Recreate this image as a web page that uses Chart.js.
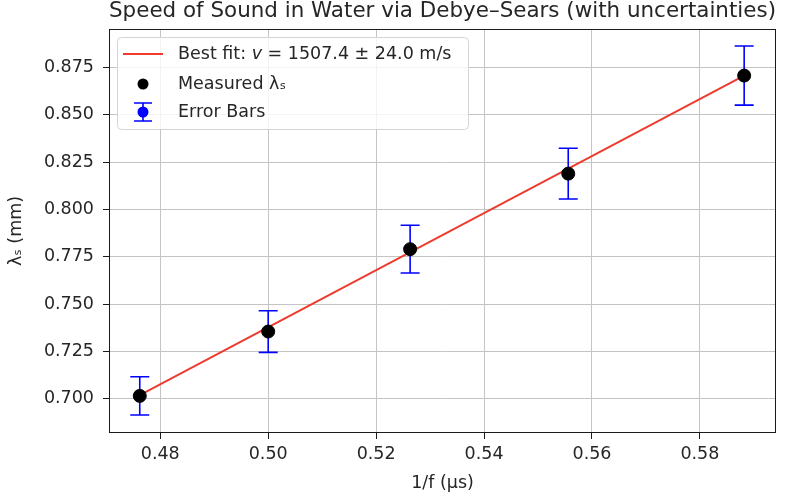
<!DOCTYPE html>
<html>
<head>
<meta charset="utf-8">
<script src="https://cdn.jsdelivr.net/npm/chart.js@4.4.1/dist/chart.umd.min.js"></script>
<style>
  html, body { margin: 0; padding: 0; background: #fff; }
  #wrap { width: 790px; height: 500px; }
</style>
</head>
<body>
<div id="wrap"><canvas id="grafico" width="790" height="500"></canvas></div>
<script>
// 1/f em microssegundos, lambda_s em mm
const invFreq = [0.4762, 0.5000, 0.5263, 0.5556, 0.5882];
const lambdaS = [0.7016, 0.7356, 0.7791, 0.8190, 0.8708];
const lambdaErr = [0.0101, 0.0110, 0.0126, 0.0134, 0.0156];

// reta ajustada (pontos extremos)
const fitX = [0.4762, 0.5882];
const fitY = [0.7020, 0.8708];

const xTicks = [0.48, 0.50, 0.52, 0.54, 0.56, 0.58];
const yTicks = [0.700, 0.725, 0.750, 0.775, 0.800, 0.825, 0.850, 0.875];

const fonte = "'DejaVu Sans', sans-serif";
const corTexto = "#262626";
const tamFonte = 17.5;

// barras de erro desenhadas com as escalas do chart (antes dos pontos)
const barrasErro = {
  id: "barrasErro",
  beforeDatasetsDraw(chart) {
    const ctx = chart.ctx;
    const sx = chart.scales.x, sy = chart.scales.y;
    ctx.save();
    ctx.strokeStyle = "#0000ff";
    ctx.lineWidth = 1.6;
    for (let i = 0; i < invFreq.length; i++) {
      const px = sx.getPixelForValue(invFreq[i]);
      const top = sy.getPixelForValue(lambdaS[i] + lambdaErr[i]);
      const bot = sy.getPixelForValue(lambdaS[i] - lambdaErr[i]);
      ctx.beginPath();
      ctx.moveTo(px, top); ctx.lineTo(px, bot);
      ctx.moveTo(px - 9.5, top); ctx.lineTo(px + 9.5, top);
      ctx.moveTo(px - 9.5, bot); ctx.lineTo(px + 9.5, bot);
      ctx.stroke();
    }
    ctx.restore();
  }
};

// moldura + legenda dentro da area
const moldura = {
  id: "moldura",
  afterDraw(chart) {
    const ctx = chart.ctx;
    const a = chart.chartArea;
    ctx.save();
    ctx.strokeStyle = "#1a1a1a";
    ctx.lineWidth = 1;
    ctx.strokeRect(Math.round(a.left) + 0.5, Math.round(a.top) + 0.5,
      Math.round(a.right - a.left) - 1, Math.round(a.bottom - a.top) - 1);

    // legenda
    const lx = a.left + 8, ly = a.top + 8, lw = 351, lh = 92;
    ctx.beginPath();
    ctx.roundRect(lx + 0.5, ly + 0.5, lw, lh, 4);
    ctx.fillStyle = "rgba(255,255,255,0.8)";
    ctx.fill();
    ctx.strokeStyle = "#d4d4d4";
    ctx.stroke();

    const hx = lx + 26;
    const r1 = ly + 17, r2 = ly + 47, r3 = ly + 75;
    ctx.strokeStyle = "#ee3b2e";
    ctx.lineWidth = 2;
    ctx.beginPath(); ctx.moveTo(lx + 6, r1); ctx.lineTo(lx + 46, r1); ctx.stroke();

    ctx.fillStyle = "#000";
    ctx.beginPath(); ctx.arc(hx, r2, 5.5, 0, Math.PI * 2); ctx.fill();

    ctx.strokeStyle = "#0000ff";
    ctx.lineWidth = 1.6;
    ctx.beginPath();
    ctx.moveTo(hx, r3 - 9); ctx.lineTo(hx, r3 + 9);
    ctx.moveTo(hx - 9, r3 - 9); ctx.lineTo(hx + 9, r3 - 9);
    ctx.moveTo(hx - 9, r3 + 9); ctx.lineTo(hx + 9, r3 + 9);
    ctx.stroke();
    ctx.fillStyle = "#0000ff";
    ctx.beginPath(); ctx.arc(hx, r3, 5.5, 0, Math.PI * 2); ctx.fill();

    ctx.fillStyle = corTexto;
    ctx.textBaseline = "middle";
    const tx = lx + 61;
    ctx.font = tamFonte + "px " + fonte;
    let t = "Best fit: ";
    ctx.fillText(t, tx, r1);
    let w = ctx.measureText(t).width;
    ctx.font = "italic " + tamFonte + "px " + fonte;
    ctx.fillText("v", tx + w, r1);
    w += ctx.measureText("v").width;
    ctx.font = tamFonte + "px " + fonte;
    ctx.fillText(" = 1507.4 \u00b1 24.0 m/s", tx + w, r1);
    ctx.fillText("Measured \u03bb\u209b", tx, r2);
    ctx.fillText("Error Bars", tx, r3);
    ctx.restore();
  }
};

const ctx = document.getElementById("grafico").getContext("2d");
let meuGrafico = new Chart(ctx, {
  type: "scatter",
  data: {
    datasets: [
      {
        label: "Best fit",
        type: "line",
        data: fitX.map((x, i) => ({ x: x, y: fitY[i] })),
        borderColor: "#ee3b2e",
        borderWidth: 2,
        pointRadius: 0,
        fill: false,
        order: 2,
      },
      {
        label: "Measured",
        data: invFreq.map((x, i) => ({ x: x, y: lambdaS[i] })),
        backgroundColor: "#000",
        borderColor: "#000",
        pointRadius: 6.5,
        order: 1,
      },
    ],
  },
  options: {
    responsive: false,
    animation: false,
    devicePixelRatio: 1,
    layout: { padding: { left: 0, right: 14, top: 0, bottom: 0 } },
    plugins: {
      legend: { display: false },
      tooltip: { enabled: false },
      title: {
        display: true,
        text: "Speed of Sound in Water via Debye\u2013Sears (with uncertainties)",
        fullSize: false,
        color: corTexto,
        font: { family: fonte, size: 22, weight: "normal", lineHeight: 1 },
        padding: { top: 0, bottom: 7 },
      },
    },
    scales: {
      x: {
        type: "linear",
        min: 0.4705,
        max: 0.5941,
        afterBuildTicks: (s) => { s.ticks = xTicks.map(v => ({ value: v })); },
        afterFit: (s) => { s.height = 67; },
        ticks: {
          callback: (v) => v.toFixed(2),
          color: corTexto,
          font: { family: fonte, size: tamFonte },
          padding: 5,
          maxRotation: 0,
        },
        grid: { color: "#c4c4c4", lineWidth: 1, tickColor: "#1a1a1a", tickLength: 6 },
        border: { display: false },
        title: {
          display: true,
          text: "1/f (\u00b5s)",
          color: corTexto,
          font: { family: fonte, size: tamFonte },
          padding: { top: 0, bottom: 6 },
        },
      },
      y: {
        type: "linear",
        min: 0.682,
        max: 0.8954,
        afterBuildTicks: (s) => { s.ticks = yTicks.map(v => ({ value: v })); },
        afterFit: (s) => { s.width = 109; },
        ticks: {
          callback: (v) => v.toFixed(3),
          color: corTexto,
          font: { family: fonte, size: tamFonte },
          padding: 9,
        },
        grid: { color: "#c4c4c4", lineWidth: 1, tickColor: "#1a1a1a", tickLength: 6 },
        border: { display: false },
        title: {
          display: true,
          text: "\u03bb\u209b (mm)",
          color: corTexto,
          font: { family: fonte, size: tamFonte },
          padding: { top: 6, bottom: 0 },
        },
      },
    },
  },
  plugins: [barrasErro, moldura],
});
</script>
</body>
</html>
